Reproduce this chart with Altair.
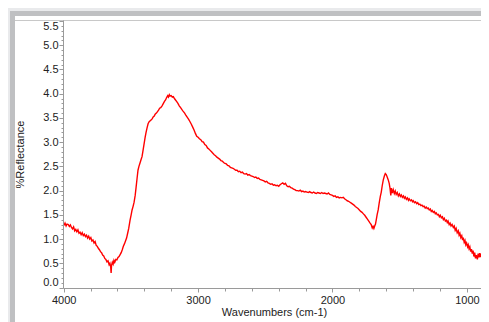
import altair as alt
import pandas as pd

# ---------------- data ----------------
wavenumber = [
    3998, 3990, 3982, 3975, 3966, 3958, 3950, 3942, 3934, 3926, 3918, 3910, 3902, 3894, 3886, 3878,
    3870, 3862, 3854, 3846, 3838, 3830, 3822, 3814, 3806, 3798, 3790, 3782, 3774, 3766, 3758, 3750,
    3742, 3734, 3726, 3718, 3710, 3702, 3694, 3686, 3678, 3670, 3662, 3656, 3650, 3647, 3644, 3638,
    3632, 3626, 3620, 3612, 3604, 3596, 3588, 3580, 3572, 3564, 3556, 3548, 3540, 3532, 3524, 3516,
    3506, 3498, 3491, 3483, 3476, 3468, 3461, 3454, 3447, 3440, 3432, 3424, 3417, 3410, 3402, 3394,
    3387, 3380, 3372, 3364, 3356, 3348, 3342, 3334, 3326, 3318, 3310, 3302, 3294, 3286, 3278, 3268,
    3258, 3250, 3242, 3234, 3226, 3220, 3214, 3208, 3200, 3192, 3184, 3176, 3168, 3160, 3150, 3140,
    3130, 3120, 3112, 3100, 3090, 3080, 3070, 3060, 3050, 3040, 3030, 3020, 3010, 3000, 2990, 2980,
    2970, 2960, 2950, 2940, 2930, 2920, 2910, 2900, 2890, 2880, 2870, 2860, 2850, 2840, 2830, 2820,
    2810, 2800, 2790, 2780, 2770, 2760, 2750, 2740, 2730, 2720, 2710, 2700, 2690, 2680, 2670, 2660,
    2650, 2640, 2630, 2620, 2610, 2600, 2590, 2580, 2570, 2560, 2550, 2540, 2530, 2520, 2510, 2500,
    2490, 2480, 2470, 2460, 2450, 2440, 2430, 2420, 2410, 2400, 2390, 2380, 2370, 2360, 2350, 2340,
    2330, 2320, 2310, 2300, 2290, 2280, 2270, 2260, 2250, 2240, 2230, 2220, 2210, 2200, 2190, 2180,
    2170, 2160, 2150, 2140, 2130, 2120, 2110, 2100, 2090, 2080, 2070, 2060, 2050, 2040, 2030, 2020,
    2010, 2000, 1990, 1980, 1970, 1960, 1950, 1940, 1930, 1920, 1910, 1900, 1890, 1880, 1870, 1860,
    1850, 1840, 1830, 1820, 1810, 1800, 1790, 1780, 1770, 1760, 1750, 1740, 1730, 1720, 1712, 1704,
    1698, 1692, 1686, 1680, 1674, 1668, 1660, 1652, 1644, 1637, 1630, 1622, 1614, 1607, 1600, 1593,
    1585, 1578, 1572, 1566, 1562, 1555, 1548, 1540, 1533, 1526, 1518, 1510, 1502, 1495, 1488, 1480,
    1472, 1465, 1458, 1450, 1442, 1435, 1429, 1420, 1412, 1405, 1399, 1390, 1382, 1374, 1366, 1358,
    1350, 1342, 1334, 1326, 1318, 1310, 1302, 1295, 1288, 1280, 1272, 1265, 1258, 1250, 1242, 1235,
    1228, 1220, 1212, 1205, 1198, 1190, 1182, 1175, 1168, 1160, 1152, 1146, 1140, 1132, 1125, 1118,
    1110, 1101, 1094, 1087, 1080, 1072, 1064, 1058, 1052, 1045, 1038, 1032, 1027, 1020, 1014, 1008,
    1002, 995, 990, 984, 978, 972, 966, 960, 954, 948, 942, 936, 930, 922, 916, 910,
    904, 898, 892, 885, 878, 872, 868,
]
reflectance = [
    1.28, 1.33, 1.27, 1.31, 1.30, 1.26, 1.29, 1.24, 1.21, 1.25, 1.17, 1.20, 1.15, 1.19, 1.12, 1.14,
    1.09, 1.13, 1.07, 1.10, 1.05, 1.08, 1.02, 1.06, 1.00, 1.03, 0.96, 0.98, 0.92, 0.95, 0.87, 0.85,
    0.81, 0.78, 0.74, 0.72, 0.67, 0.65, 0.60, 0.58, 0.53, 0.55, 0.47, 0.50, 0.42, 0.30, 0.45, 0.52,
    0.48, 0.56, 0.52, 0.58, 0.57, 0.62, 0.64, 0.68, 0.72, 0.78, 0.85, 0.90, 0.96, 1.02, 1.12, 1.22,
    1.39, 1.50, 1.60, 1.68, 1.76, 1.90, 2.07, 2.25, 2.42, 2.50, 2.57, 2.64, 2.70, 2.82, 2.96, 3.10,
    3.20, 3.29, 3.38, 3.42, 3.44, 3.46, 3.48, 3.52, 3.54, 3.58, 3.60, 3.63, 3.66, 3.70, 3.71, 3.75,
    3.80, 3.84, 3.87, 3.92, 3.96, 3.93, 3.98, 3.95, 3.96, 3.93, 3.94, 3.90, 3.87, 3.84, 3.80, 3.75,
    3.71, 3.67, 3.64, 3.60, 3.55, 3.51, 3.47, 3.42, 3.37, 3.31, 3.25, 3.18, 3.12, 3.10, 3.07, 3.05,
    3.01, 3.00, 2.95, 2.93, 2.88, 2.86, 2.83, 2.80, 2.77, 2.74, 2.72, 2.69, 2.67, 2.65, 2.62, 2.61,
    2.58, 2.56, 2.55, 2.52, 2.51, 2.48, 2.47, 2.46, 2.44, 2.42, 2.42, 2.39, 2.40, 2.37, 2.38, 2.35,
    2.34, 2.35, 2.32, 2.33, 2.31, 2.30, 2.29, 2.27, 2.28, 2.25, 2.26, 2.23, 2.22, 2.21, 2.20, 2.18,
    2.19, 2.16, 2.15, 2.13, 2.14, 2.11, 2.12, 2.10, 2.11, 2.09, 2.12, 2.14, 2.16, 2.13, 2.15, 2.10,
    2.08, 2.09, 2.06, 2.05, 2.03, 2.02, 2.00, 2.00, 1.99, 2.01, 1.98, 1.99, 1.97, 1.98, 1.97, 1.96,
    1.98, 1.96, 1.95, 1.97, 1.95, 1.94, 1.96, 1.95, 1.94, 1.96, 1.94, 1.95, 1.94, 1.93, 1.95, 1.92,
    1.91, 1.90, 1.88, 1.89, 1.86, 1.87, 1.85, 1.86, 1.85, 1.86, 1.83, 1.81, 1.79, 1.78, 1.76, 1.74,
    1.72, 1.70, 1.67, 1.65, 1.63, 1.60, 1.57, 1.55, 1.52, 1.49, 1.45, 1.41, 1.37, 1.33, 1.30, 1.23,
    1.26, 1.22, 1.27, 1.31, 1.40, 1.50, 1.60, 1.75, 1.88, 1.97, 2.10, 2.22, 2.30, 2.35, 2.33, 2.28,
    2.22, 2.15, 2.05, 1.90, 2.05, 1.95, 2.02, 1.94, 1.99, 1.92, 1.96, 1.89, 1.93, 1.88, 1.91, 1.86,
    1.89, 1.84, 1.87, 1.82, 1.85, 1.80, 1.83, 1.79, 1.81, 1.77, 1.79, 1.75, 1.77, 1.73, 1.75, 1.71,
    1.72, 1.69, 1.70, 1.67, 1.68, 1.64, 1.66, 1.63, 1.64, 1.60, 1.62, 1.57, 1.59, 1.55, 1.57, 1.52,
    1.54, 1.50, 1.51, 1.46, 1.49, 1.44, 1.46, 1.40, 1.43, 1.37, 1.39, 1.34, 1.37, 1.30, 1.33, 1.27,
    1.30, 1.24, 1.27, 1.18, 1.22, 1.13, 1.17, 1.08, 1.12, 1.03, 1.07, 0.98, 1.03, 0.93, 0.97, 0.88,
    0.92, 0.84, 0.88, 0.80, 0.84, 0.74, 0.79, 0.70, 0.76, 0.64, 0.72, 0.60, 0.67, 0.58, 0.70, 0.62,
    0.71, 0.63, 0.69, 0.66, 0.72, 0.70, 0.74,
]

x_ticks = [4000 - 200 * i for i in range(16)]          # 4000 .. 1000
y_ticks = [round(0.1 * i, 1) for i in range(56)]        # 0.0 .. 5.5

df = pd.DataFrame({"wn": wavenumber, "r": reflectance})

FONT = "Liberation Sans, Arial, sans-serif"
W, H = 418, 268
PAD = {"left": 55, "top": 12, "right": 0, "bottom": 34}

one = alt.Data(values=[{"k": 0}])


def deco(x, x2, y, y2, color):
    return alt.Chart(one).mark_rect(color=color, strokeWidth=0).encode(
        x=alt.value(x), x2=alt.value(x2), y=alt.value(y), y2=alt.value(y2)
    )


frame = [
    deco(-53, W, -9, -4, "#bfc0c2"),          # top dark band
    deco(-53, -48, -9, H + 34, "#bfc0c2"),    # left dark band
    deco(-48, W, -4, H + 34, "#ffffff"),      # white panel
    alt.Chart(one).mark_rule(color="#c8c8c8", strokeWidth=1).encode(
        x=alt.value(-48), x2=alt.value(W), y=alt.value(0.5)
    ),
]

x_axis = alt.Axis(
    values=x_ticks,
    format="d",
    labelExpr="datum.value % 1000 == 0 ? datum.label : ''",
    tickSize={"condition": {"test": "datum.value % 1000 == 0", "value": 4}, "value": 3},
    title="Wavenumbers (cm-1)",
    titleX=211,
    titleY=24,
    titleBaseline="middle",
    titleFont=FONT,
    titleFontSize=11,
    titleFontWeight="normal",
    titleColor="#222222",
    labelFlush=False,
    labelOverlap=False,
    labelFont=FONT,
    labelFontSize=11,
    labelColor="#222222",
    labelPadding=2,
    grid=False,
    domainColor="#9a9a9a",
    tickColor="#9a9a9a",
    zindex=1,
)

y_axis = alt.Axis(
    values=y_ticks,
    format=".1f",
    labelExpr="abs(datum.value * 2 - round(datum.value * 2)) < 0.001 ? datum.label : ''",
    tickSize={
        "condition": {"test": "abs(datum.value * 2 - round(datum.value * 2)) < 0.001", "value": 4},
        "value": 2,
    },
    title="%Reflectance",
    titleX=-43,
    titleY=H / 2,
    titleBaseline="middle",
    titleFont=FONT,
    titleFontSize=11,
    titleFontWeight="normal",
    titleColor="#222222",
    labelFlush=True,
    labelOverlap=False,
    labelFont=FONT,
    labelFontSize=11,
    labelColor="#222222",
    labelPadding=1,
    grid=False,
    domainColor="#9a9a9a",
    tickColor="#9a9a9a",
    zindex=1,
)

line = alt.Chart(df).mark_line(color="#ff0000", strokeWidth=1.4, clip=True).encode(
    x=alt.X("wn:Q", scale=alt.Scale(domain=[895, 4005], reverse=True, nice=False, zero=False), axis=x_axis),
    y=alt.Y("r:Q", scale=alt.Scale(domain=[-0.01, 5.52], nice=False, zero=False), axis=y_axis),
)

chart = (
    alt.layer(*frame, line)
    .properties(
        width=W,
        height=H,
        padding=PAD,
        autosize=alt.AutoSizeParams(type="none"),
        background="#e9eaec",
    )
    .configure_view(stroke=None)
)

chart.save("out.html", embed_options={"renderer": "svg", "actions": False})
